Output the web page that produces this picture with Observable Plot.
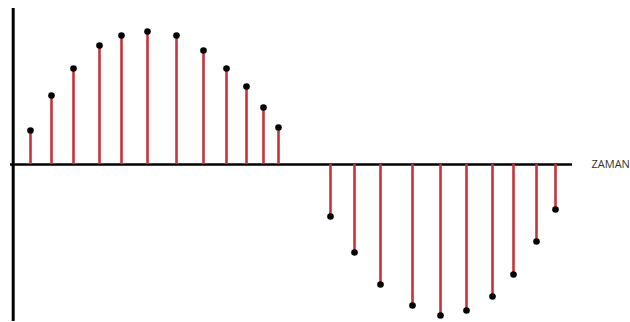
<!DOCTYPE html>
<html>
<head>
<meta charset="utf-8">
<script src="https://cdn.jsdelivr.net/npm/d3@7"></script>
<script src="https://cdn.jsdelivr.net/npm/@observablehq/plot@0.6"></script>
<style>
html,body{margin:0;padding:0;background:#fff;}
</style>
</head>
<body>
<div id="chart"></div>
<script>
// Sample times (horizontal position along the time axis)
const times = [30, 51, 73, 99, 121, 147, 176, 203, 226, 246, 263, 278,
               330, 354, 380, 412, 440, 466, 492, 513, 536, 555];
// Sample amplitudes
const values = [34, 69, 96, 119, 129, 133, 129, 114, 96, 78, 57, 37,
                -52, -88, -120, -141, -151, -146, -132, -110, -77, -45];
const axisLabel = "ZAMAN";

const samples = times.map((t, i) => ({t, v: values[i]}));

const chart = Plot.plot({
  width: 630,
  height: 322,
  margin: 0,
  x: {domain: [0, 630], axis: null},
  y: {domain: [-158, 164], axis: null},
  style: {background: "#fff"},
  marks: [
    Plot.ruleY([0], {x1: 10, x2: 572, stroke: "#000", strokeWidth: 2.5}),
    Plot.ruleX([12.7], {y1: -157, y2: 156, stroke: "#000", strokeWidth: 3}),
    Plot.ruleX(samples, {x: "t", y1: 0, y2: "v", stroke: "#c8323a", strokeWidth: 2.6}),
    Plot.dot(samples, {x: "t", y: "v", r: 3.3, fill: "#000", stroke: "none"}),
    Plot.text([axisLabel], {x: 591, y: 0, text: d => d, textAnchor: "start", fontSize: 11, fill: "#333", fontFamily: "Open Sans, sans-serif"})
  ]
});
document.getElementById("chart").appendChild(chart);
</script>
</body>
</html>
